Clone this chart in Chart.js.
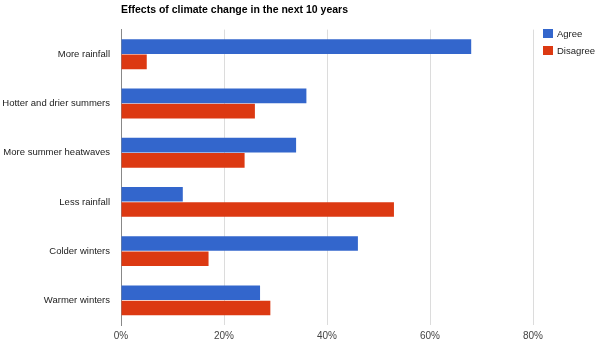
<!DOCTYPE html>
<html>
<head>
<meta charset="utf-8">
<script src="https://cdn.jsdelivr.net/npm/chart.js@4.4.1/dist/chart.umd.min.js"></script>
<style>
  body { margin: 0; background: #fff; font-family: Arial, "Liberation Sans", sans-serif; }
  #wrap { position: relative; width: 600px; height: 349px; }
  #legend { position: absolute; left: 543px; top: 29px; font-size: 9.5px; color: #222; }
  .item { height: 17px; line-height: 10px; white-space: nowrap; }
  .swatch { display: inline-block; width: 10px; height: 9px; vertical-align: top; margin-right: 4px; }
</style>
</head>
<body>
<div id="wrap">
  <canvas id="chart"></canvas>
  <div id="legend"></div>
</div>
<script>
// Data
const categories = ['More rainfall', 'Hotter and drier summers', 'More summer heatwaves', 'Less rainfall', 'Colder winters', 'Warmer winters'];
const agree = [68, 36, 34, 12, 46, 27];
const disagree = [5, 26, 24, 53, 17, 29];
const seriesNames = ['Agree', 'Disagree'];
const seriesColors = ['#3366cc', '#dc3912'];
const xTicks = [0, 20, 40, 60, 80];

const fontFamily = 'Arial, "Liberation Sans", sans-serif';

const ctx = document.getElementById('chart').getContext('2d');
const chart = new Chart(ctx, {
    type: 'bar',
    data: {
        labels: categories,
        datasets: [
            { label: seriesNames[0], data: agree, backgroundColor: seriesColors[0] },
            { label: seriesNames[1], data: disagree, backgroundColor: seriesColors[1] }
        ]
    },
    options: {
        indexAxis: 'y',
        responsive: true,
        maintainAspectRatio: false,
        animation: false,
        datasets: {
            bar: { categoryPercentage: 0.62, barPercentage: 0.96 }
        },
        layout: {
            padding: { left: 0, right: 67, top: 0, bottom: 2 }
        },
        plugins: {
            legend: { display: false },
            tooltip: { enabled: false },
            title: {
                display: true,
                text: 'Effects of climate change in the next 10 years',
                align: 'start',
                fullSize: false,
                color: '#000',
                font: { family: fontFamily, size: 10.5, weight: 'bold' },
                padding: { top: 4, bottom: 13 }
            }
        },
        scales: {
            x: {
                min: 0,
                max: 80,
                afterBuildTicks: (scale) => {
                    scale.ticks = xTicks.map(v => ({ value: v }));
                },
                grid: {
                    color: '#dcdcdc',
                    drawTicks: false
                },
                border: { display: false },
                ticks: {
                    color: '#444',
                    padding: 5,
                    font: { family: fontFamily, size: 10 },
                    callback: (v) => v + '%'
                }
            },
            y: {
                grid: { display: false, drawTicks: false },
                border: { display: true, color: '#888', width: 1 },
                ticks: {
                    color: '#222',
                    padding: 11,
                    font: { family: fontFamily, size: 9.5 }
                },
                afterFit: (scale) => {
                    scale.width = 121;
                }
            }
        }
    }
});

// Legend
const legend = document.getElementById('legend');
seriesNames.forEach((name, i) => {
    const item = document.createElement('div');
    item.className = 'item';
    item.innerHTML = '<span class="swatch" style="background:' + seriesColors[i] + '"></span>' + name;
    legend.appendChild(item);
});
</script>
</body>
</html>
